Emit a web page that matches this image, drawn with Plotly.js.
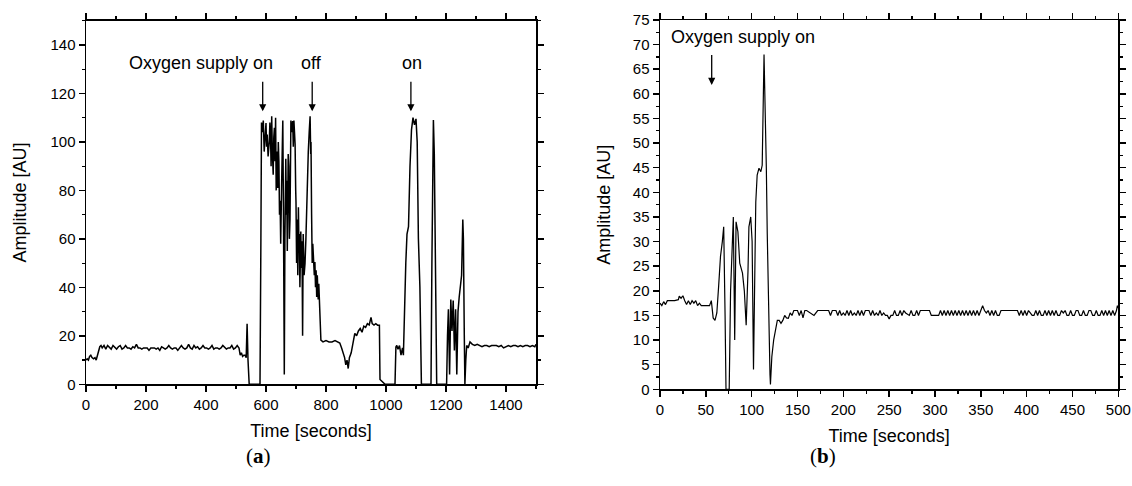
<!DOCTYPE html>
<html>
<head>
<meta charset="utf-8">
<script src="https://cdn.plot.ly/plotly-3.0.1.min.js"></script>
<style>html,body{margin:0;padding:0;background:#fff;}#chart{width:1132px;height:486px;}</style>
</head>
<body>
<div id="chart"></div>
<script>
// Panel (a): time [s] and amplitude [AU]
const timeA = [
0,4,8,12,16,20,25,30,34,38,
42,46,50,54,60,66,72,78,84,90,
96,102,108,114,120,126,132,138,144,150,
156,162,168,174,180,186,192,198,204,210,
216,222,228,234,240,246,252,258,264,270,
276,282,288,294,300,306,312,318,324,330,
336,342,348,354,360,366,372,378,384,390,
396,402,408,414,420,426,432,438,444,450,
456,462,468,474,480,486,492,498,504,510,
514,518,522,526,530,534,537,540,544,560,
580,583,
585,588,591,594,597,600,602,604,607,611,
613,615,617,619,621,624,626,628,630,632,
634,636,639,641,643,645,647,649,652,654,
656,658,659,661,663,666,668,669,671,672,
674,676,678,680,682,683,686,689,691,693,
695,697,699,700,702,704,706,708,710,711,
713,716,718,720,722,724,727,730,733,736,
738,741,744,747,749,750,752,754,756,758,
761,763,765,767,769,771,774,776,778,780,
783,790,800,810,820,830,840,846,852,
858,862,866,870,874,878,884,890,896,902,
908,914,920,926,932,938,944,950,954,960,
966,972,978,980,985,990,997,1010,1030,1033,
1036,1040,1045,1050,1055,1058,1061,1066,1070,1075,
1080,1085,1090,1095,1100,1104,1108,1113,1118,1130,
1150,1153,1156,1158,1161,1165,1169,1185,1202,1205,
1208,1212,1216,1220,1224,1228,1232,1236,1240,1244,
1248,1252,1256,1258,1261,1263,1266,1269,1274,1280,
1288,1296,1304,1312,1320,1328,1336,1344,1352,1360,
1368,1376,1384,1392,1400,1408,1416,1424,1432,1440,
1448,1456,1464,1472,1480,1488,1496,1500
];
const ampA = [
10,10.5,10,11.5,12,11,10.5,11,10,12,
14,15.5,16,15,16,14.5,16,15,14.5,16,
15,14.5,15.5,16,14.5,15,16,15,15,14.5,
15.5,15,16.5,15,15,14.5,15,15,15,14,
15,15,15,14.5,15,14,15.5,15,14.5,15,
16,15,14.5,15,15,14,15,16,15,14.5,
15,16.5,15,14.5,16,15,15.5,14.5,15,16,
15,15,14.5,15,16,14.5,15,15,14.5,15,
16,15,14.5,15,15,16,14.5,15,16,15,
12,13,11.5,12,12,11,25,10,0,0,
0,60,
108,104,108.8,96,101.6,107.8,98,103,94,100.3,
108,103,90,110.6,97,86.5,102,105.8,92,110,
80,96,81,100,92,70,75.7,58,82,95,
108.8,75,62,4,60,93,70,84,55,75,
95,90,60,68,100,108.8,104,108.6,98,108.8,
104,99,80,75,50,68,45,73,55,62,
40,63,48,59,20,62,45,49.7,60,75,
90,96,104,110.6,95,100,70,50,58,51.7,
45,50.4,40,47,36,45,35,41.5,33,30.5,
18.2,17.5,18,17.5,17.5,18,17.5,17,15,
13,11,8,10,6.5,11,13,17,21,20,
22,23,21.5,24,23.5,25,24.5,27.6,25,24.4,
25,24.4,24.4,2,1.5,1,0,0,0,15.4,
16,14.5,16,12,15,12,27.8,50,62,65,
90,105,110,107,109.5,100,60,40,0,0,
0,50,100,109,95,40,0,0,0,20,
31,4,35,22,34.6,14,31,4,30,36,
40,45,68,60,20,0,10,16,15,17.5,
16.5,16,16.5,16,15.5,16,16,15.5,16,16,
16,15.5,16,15,15.5,16,15.5,16,16,15.5,
16,15.5,16,16,15.5,16,15.5,16.5
];

// Panel (b): time [s] and amplitude [AU]
const timeB = [
0,2,4,6,8,12,16,20,21,23,
25,27,29,31,33,35,37,39,41,43,
45,48,51,54,56,58,60,62,64,66,
68,69.5,71,72,75.5,77,80,81.5,83,85,
87,90,92,94,96,97,99,100.5,102,103.5,
104.5,106,108,110,111.5,113.5,115,116,117,118.5,
120,120.5,122,124,126,128,130,132,134,136,
138,140,142,144,146,150,152,154,156,158,
160,164,168,172,176,180,184,186,188,192,
194,196,198,200,202,204,206,208,210,212,
214,216,218,220,222,224,228,230,232,234,
236,238,240,242,244,246,248,250,252,254,
256,258,260,262,264,266,268,272,274,276,
278,280,282,284,286,290,294,296,300,304,
306,308,310,312,314,316,318,320,322,324,
326,328,330,332,334,336,338,340,342,344,
346,348,350,352,354,356,358,360,362,364,
366,368,370,372,380,390,392,394,396,398,
400,402,404,406,408,410,412,414,416,418,
420,422,424,426,428,430,432,434,436,438,
440,442,444,446,448,450,452,454,456,458,
460,462,464,466,468,470,472,474,476,478,
480,482,484,486,488,490,492,494,496,498,
499,500
];
const ampB = [
17.5,17,17.8,17.2,18,18,18,18.2,18.9,18.5,
19,18,17.2,18,17.2,18,17.5,18,17,17.5,
17,17,17,17,18,14.5,14,15.5,21,27,
30,33,15,0,0,20,35,10,34,32,
25.6,23.6,20,13,24,33,35,30,4,32,
38,43.5,44.9,44.2,45.5,68,56,45,31.7,12,
3,1,6.6,10,12,14,14,13.4,14,15,
14.5,14.4,15.5,15,16,16,15,16,14.5,16,
16,15.5,15,16,16,16,16,15,16,16,
15,16,15,15.5,15,16,15,16,15,15.5,
15,16,15,16,15,16,16,15,16,15,
15.5,15,16,15,15.5,15,15,14.3,15,15,
16,15,15,16,15,16,15.5,15,16,15,
15,16,15,16,16,16,16,15,15,15,
16,15,16,15,16,15,16,15,16,15,
16,15,16,15,16,15,16,15,16,15,
16,15,16,17,16,15.5,16,15,16,15,
16,15,15,16,16,16,15,16,15,16,
15,16,15.5,15,15,16,15,16,15,15,
16,15,16,15,16,15,16,15,15,16,
15.5,16,15,15,16,15,15,16,16,15,
15,16,15,15,16,16,15,15,16,15,
15,16,15,16,15,16,15,16,15,16,
17,16.5
];

// Annotation labels
const labelsA = [
  {text: 'Oxygen supply on', x: 382, y: 132.4},
  {text: 'off', x: 753, y: 132.4},
  {text: 'on', x: 1086, y: 132.4}
];
const arrowsA = [
  {x: 589, tail: 125.4, tip: 112.6},
  {x: 754, tail: 125.4, tip: 112.6},
  {x: 1083, tail: 125.4, tip: 112.6}
];
const labelsB = [{text: 'Oxygen supply on', x: 91, y: 71.5}];
const arrowsB = [{x: 56.4, tail: 68.2, tip: 61.8}];

const FONT = 'Liberation Sans, Arial, sans-serif';
const traces = [
  {x: timeA, y: ampA, type: 'scatter', mode: 'lines', line: {color: '#000', width: 1.5}, xaxis: 'x', yaxis: 'y', showlegend: false},
  {x: timeB, y: ampB, type: 'scatter', mode: 'lines', line: {color: '#000', width: 1.2}, xaxis: 'x2', yaxis: 'y2', showlegend: false}
];

function axis(extra) {
  return Object.assign({
    showline: true, linecolor: '#000', linewidth: 1.5, mirror: 'allticks',
    ticks: 'outside', ticklen: 6, tickwidth: 1.5, tickcolor: '#000',
    showgrid: false, zeroline: false,
    tickfont: {family: FONT, size: 15, color: '#000'}
  }, extra);
}

const annotations = [];
labelsA.forEach(l => annotations.push({xref: 'x', yref: 'y', x: l.x, y: l.y, text: l.text, showarrow: false, font: {family: FONT, size: 18, color: '#000'}}));
arrowsA.forEach(a => annotations.push({xref: 'x', yref: 'y', axref: 'x', ayref: 'y', x: a.x, y: a.tip, ax: a.x, ay: a.tail, text: '', showarrow: true, arrowhead: 2, arrowsize: 1.1, arrowwidth: 1.3, arrowcolor: '#000'}));
labelsB.forEach(l => annotations.push({xref: 'x2', yref: 'y2', x: l.x, y: l.y, text: l.text, showarrow: false, font: {family: FONT, size: 18, color: '#000'}}));
arrowsB.forEach(a => annotations.push({xref: 'x2', yref: 'y2', axref: 'x2', ayref: 'y2', x: a.x, y: a.tip, ax: a.x, ay: a.tail, text: '', showarrow: true, arrowhead: 2, arrowsize: 1.1, arrowwidth: 1.3, arrowcolor: '#000'}));
annotations.push({xref: 'paper', yref: 'paper', x: 244/1132, y: 1 - 470/486, text: '(<b>a</b>)', showarrow: false, font: {family: 'Liberation Serif, serif', size: 21, color: '#000'}});
annotations.push({xref: 'paper', yref: 'paper', x: 838/1132, y: 1 - 470/486, text: '(<b>b</b>)', showarrow: false, font: {family: 'Liberation Serif, serif', size: 21, color: '#000'}});

const titleFont = {family: FONT, size: 18, color: '#000'};
const layout = {
  width: 1132, height: 486,
  margin: {l: 0, r: 0, t: 0, b: 0},
  paper_bgcolor: '#fff', plot_bgcolor: '#fff',
  xaxis: axis({domain: [86/1132, 536/1132], range: [0, 1500], dtick: 200, tick0: 0,
    minor: {dtick: 100, ticklen: 3, tickwidth: 1.2, ticks: 'outside', tickcolor: '#000'},
    title: {text: 'Time [seconds]', standoff: 12, font: titleFont}, anchor: 'y'}),
  yaxis: axis({domain: [1 - 384.3/486, 1 - 20.7/486], range: [0, 150], dtick: 20, tick0: 0,
    minor: {dtick: 10, ticklen: 3, tickwidth: 1.2, ticks: 'outside', tickcolor: '#000'},
    title: {text: 'Amplitude [AU]', standoff: 19, font: titleFont}, anchor: 'x'}),
  xaxis2: axis({domain: [660/1132, 1118.3/1132], range: [0, 500], dtick: 50, tick0: 0,
    minor: {dtick: 25, ticklen: 3, tickwidth: 1.2, ticks: 'outside', tickcolor: '#000'},
    title: {text: 'Time [seconds]', standoff: 12, font: titleFont}, anchor: 'y2'}),
  yaxis2: axis({domain: [1 - 389.3/486, 1 - 20/486], range: [0, 75], dtick: 5, tick0: 0,
    minor: {dtick: 2.5, ticklen: 3, tickwidth: 1.2, ticks: 'outside', tickcolor: '#000'},
    title: {text: 'Amplitude [AU]', standoff: 17, font: titleFont}, anchor: 'x2'}),
  annotations: annotations
};

Plotly.newPlot('chart', traces, layout, {displayModeBar: false, staticPlot: true});
</script>
</body>
</html>
